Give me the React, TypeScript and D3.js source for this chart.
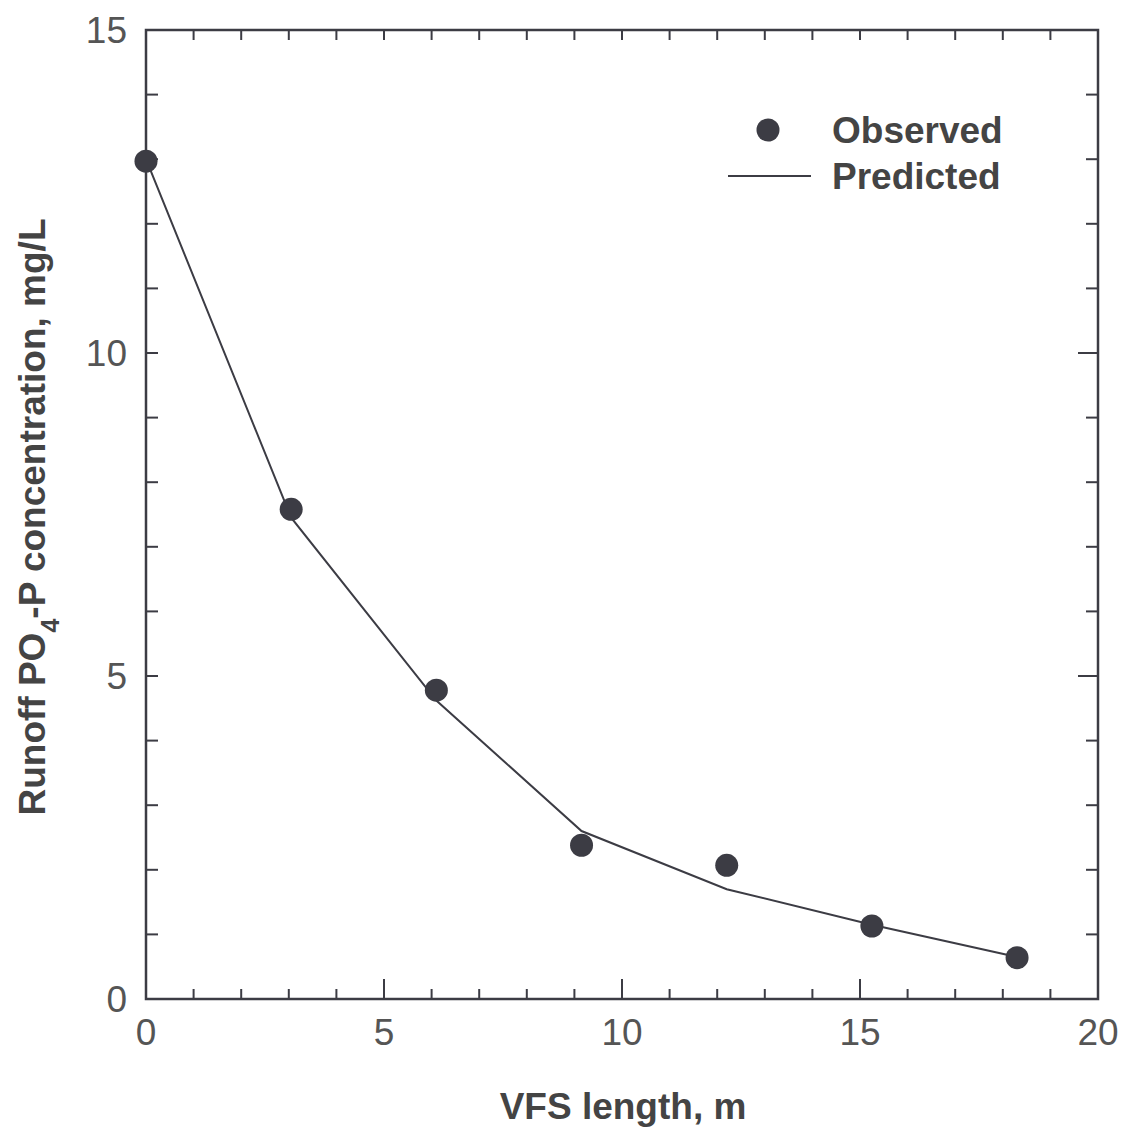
import React from "react";
import * as d3 from "d3";

const vfsLength = [0, 3.05, 6.1, 9.15, 12.2, 15.25, 18.3];
const observed = [12.97, 7.58, 4.78, 2.38, 2.07, 1.13, 0.64];
const predicted = [13.0, 7.45, 4.62, 2.6, 1.7, 1.15, 0.65];
const xTicks = [0, 5, 10, 15, 20];
const yTicks = [0, 5, 10, 15];

const W = 1126, H = 1129;
const L = 146, R = 1098, T = 30, B = 999;
const ink = "#3c3c44";
const font = "'Liberation Sans', Arial, sans-serif";

export default function App() {
  const x = d3.scaleLinear().domain([0, 20]).range([L, R]);
  const y = d3.scaleLinear().domain([0, 15]).range([B, T]);
  const line = d3.line<number>().x((_, i) => x(vfsLength[i])).y((d) => y(d));
  const xMinor = d3.range(0, 21, 1);
  const yMinor = d3.range(0, 16, 1);
  return (
    <svg width={W} height={H} style={{ display: "block", position: "absolute", left: 0, top: 0, background: "#fff" }}>
      <rect x={0} y={0} width={W} height={H} fill="#fff" />
      {xMinor.map((v) => {
        const len = v % 5 === 0 ? 20 : 10;
        return (
          <g key={"xt" + v} stroke={ink} strokeWidth={2}>
            <line x1={x(v)} x2={x(v)} y1={B} y2={B - len} />
            <line x1={x(v)} x2={x(v)} y1={T} y2={T + 10} />
          </g>
        );
      })}
      {yMinor.map((v) => {
        const lenR = v % 5 === 0 ? 20 : 12;
        return (
          <g key={"yt" + v} stroke={ink} strokeWidth={2}>
            <line x1={L} x2={L + 12} y1={y(v)} y2={y(v)} />
            <line x1={R} x2={R - lenR} y1={y(v)} y2={y(v)} />
          </g>
        );
      })}
      <rect x={L} y={T} width={R - L} height={B - T} fill="none" stroke={ink} strokeWidth={2.5} />
      {xTicks.map((v) => (
        <text key={"xl" + v} x={x(v)} y={1045} textAnchor="middle" fontFamily={font} fontSize={37} fill="#555">
          {v}
        </text>
      ))}
      {yTicks.map((v) => (
        <text key={"yl" + v} x={127} y={y(v) + 13} textAnchor="end" fontFamily={font} fontSize={37} fill="#555">
          {v}
        </text>
      ))}
      <path d={line(predicted) || ""} fill="none" stroke={ink} strokeWidth={2} />
      {observed.map((v, i) => (
        <circle key={"o" + i} cx={x(vfsLength[i])} cy={y(v)} r={11.5} fill={ink} />
      ))}
      <circle cx={768} cy={130} r={11.5} fill={ink} />
      <text x={832} y={143} fontFamily={font} fontSize={37} fontWeight="bold" fill="#444">Observed</text>
      <line x1={728} x2={811} y1={176} y2={176} stroke={ink} strokeWidth={2} />
      <text x={832} y={189} fontFamily={font} fontSize={37} fontWeight="bold" fill="#444">Predicted</text>
      <text x={623} y={1119} textAnchor="middle" fontFamily={font} fontSize={37} fontWeight="bold" fill="#444">
        VFS length, m
      </text>
      <text transform="translate(45,517) rotate(-90)" textAnchor="middle" fontFamily={font} fontSize={37} fontWeight="bold" fill="#444">
        Runoff PO<tspan baselineShift="sub" fontSize={25}>4</tspan>-P concentration, mg/L
      </text>
    </svg>
  );
}
